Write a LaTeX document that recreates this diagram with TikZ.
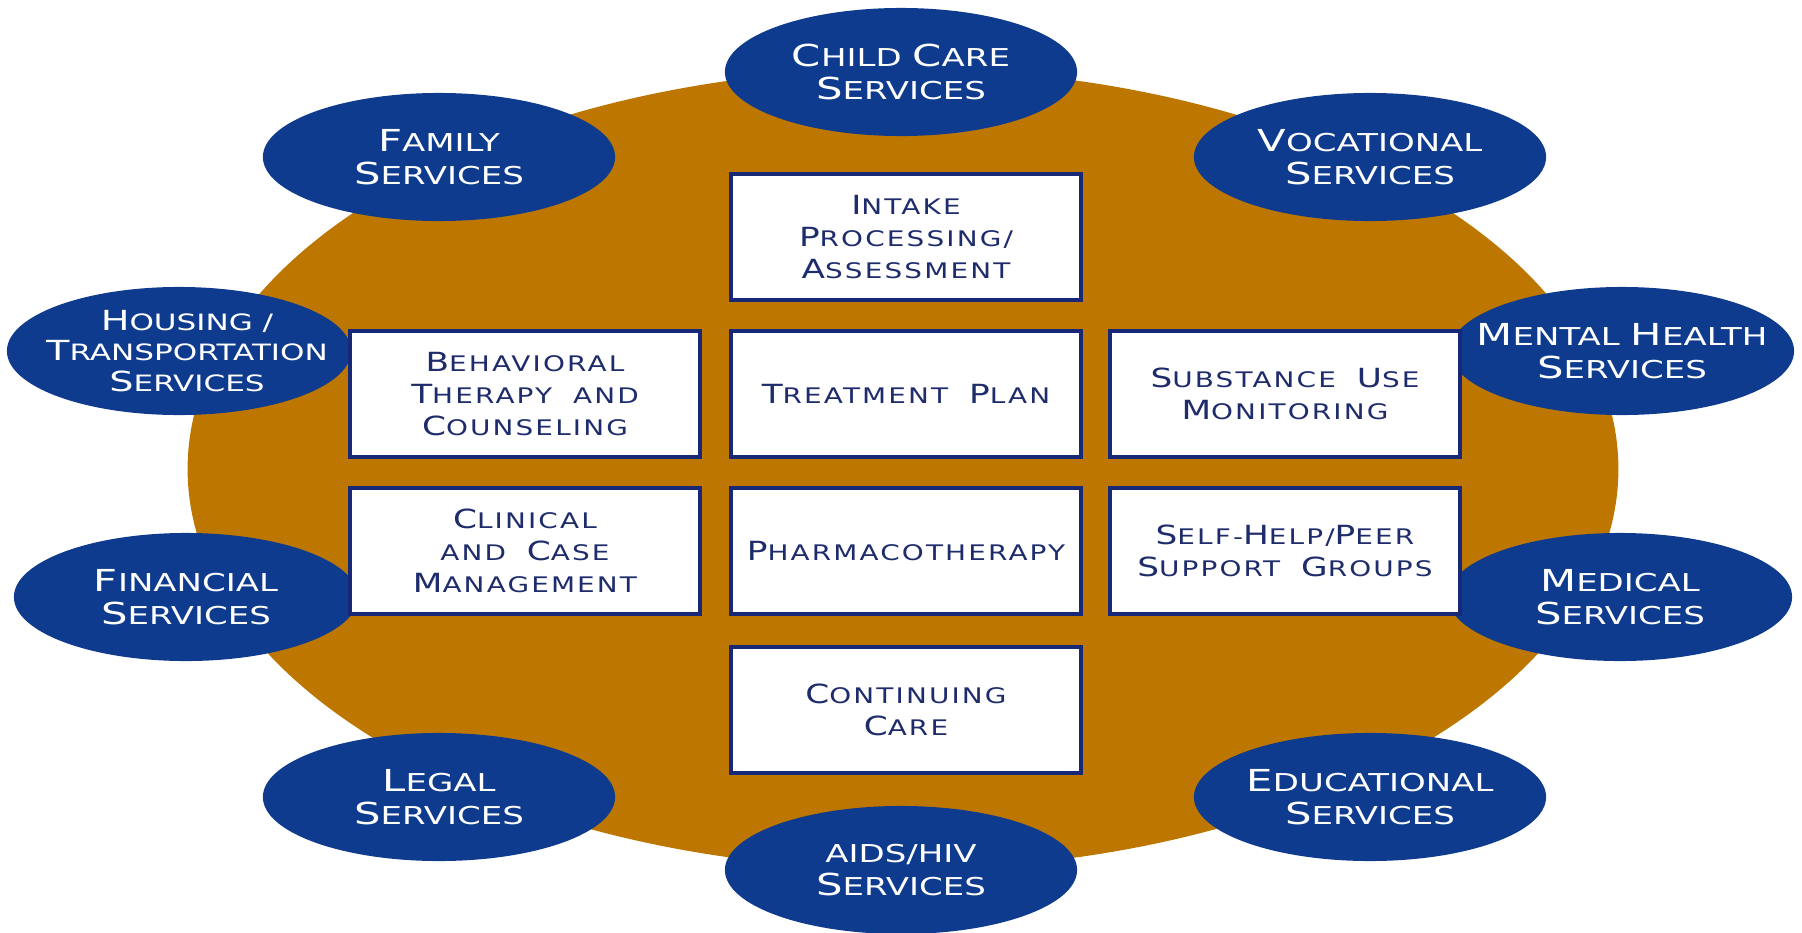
\documentclass[tikz,border=0pt]{standalone}
\usepackage{fontspec}
\setmainfont{DejaVu Sans}
\newfontfamily\widefont[FakeStretch=1.38]{DejaVu Sans}
\newfontfamily\boxfont[FakeStretch=1.3, LetterSpace=10, WordSpace=1.9]{DejaVu Sans}
\usetikzlibrary{shapes.geometric}
\definecolor{ringOrange}{RGB}{189,119,0}
\definecolor{svcBlue}{RGB}{15,59,142}
\definecolor{boxNavy}{RGB}{22,40,118}
\definecolor{txtNavy}{RGB}{30,44,108}
% larger capital for the small-caps look
\newcommand{\cp}[1]{\scalebox{1.23}{#1}}

\begin{document}
\begin{tikzpicture}[
  x=0.01cm, y=-0.01cm,
  svc/.style={ellipse, fill=svcBlue, inner sep=0pt, minimum width=3.52cm, minimum height=1.28cm},
  svcside/.style={svc, minimum width=3.44cm},
  svctext/.style={text=white, align=center, font=\widefont\fontsize{7}{9.4}\selectfont},
  stage/.style={rectangle, draw=boxNavy, line width=1.3pt, fill=white, inner sep=0pt,
    minimum width=3.5cm, minimum height=1.26cm, text=txtNavy, align=center,
    font=\boxfont\fontsize{6.1}{9.2}\selectfont},
]
  \useasboundingbox (0,0) rectangle (1802,933);
  % the ring
  \fill[ringOrange] (903,469) ellipse (7.15cm and 4cm);

  % outer services
  \node[svc, label={[svctext]center:{\cp{C}HILD \cp{C}ARE\\\cp{S}ERVICES}}] (childcare) at (901,72) {};
  \node[svc, label={[svctext]center:{\cp{F}AMILY\\\cp{S}ERVICES}}] (family) at (439,157) {};
  \node[svc, label={[svctext]center:{\cp{V}OCATIONAL\\\cp{S}ERVICES}}] (vocational) at (1370,157) {};
  \node[svcside, label={[svctext, font=\widefont\fontsize{6.4}{8.6}\selectfont, xshift=0.08cm]center:{\cp{H}OUSING /\\\cp{T}RANSPORTATION\\\cp{S}ERVICES}}] (housing) at (179,351) {};
  \node[svcside, label={[svctext]center:{\cp{M}ENTAL \cp{H}EALTH\\\cp{S}ERVICES}}] (mental) at (1622,351) {};
  \node[svcside, label={[svctext]center:{\cp{F}INANCIAL\\\cp{S}ERVICES}}] (financial) at (186,597) {};
  \node[svcside, label={[svctext]center:{\cp{M}EDICAL\\\cp{S}ERVICES}}] (medical) at (1620,597) {};
  \node[svc, label={[svctext]center:{\cp{L}EGAL\\\cp{S}ERVICES}}] (legal) at (439,797) {};
  \node[svc, label={[svctext]center:{\cp{E}DUCATIONAL\\\cp{S}ERVICES}}] (educational) at (1370,797) {};
  \node[svc, label={[svctext]center:{AIDS/HIV\\\cp{S}ERVICES}}] (aids) at (901,870) {};

  % treatment components
  \node[stage] (intake) at (906,237) {\cp{I}NTAKE\\\cp{P}ROCESSING/\\\cp{A}SSESSMENT};
  \node[stage] (plan) at (906,394) {\cp{T}REATMENT \cp{P}LAN};
  \node[stage] (pharma) at (906,551) {\cp{P}HARMACOTHERAPY};
  \node[stage] (continuing) at (906,710) {\cp{C}ONTINUING\\\cp{C}ARE};
  \node[stage] (behavioral) at (525,394) {\cp{B}EHAVIORAL\\\cp{T}HERAPY AND\\\cp{C}OUNSELING};
  \node[stage] (clinical) at (525,551) {\cp{C}LINICAL\\AND \cp{C}ASE\\\cp{M}ANAGEMENT};
  \node[stage] (monitoring) at (1285,394) {\cp{S}UBSTANCE \cp{U}SE\\\cp{M}ONITORING};
  \node[stage] (selfhelp) at (1285,551) {\cp{S}ELF-\cp{H}ELP/\cp{P}EER\\\cp{S}UPPORT \cp{G}ROUPS};
\end{tikzpicture}
\end{document}
